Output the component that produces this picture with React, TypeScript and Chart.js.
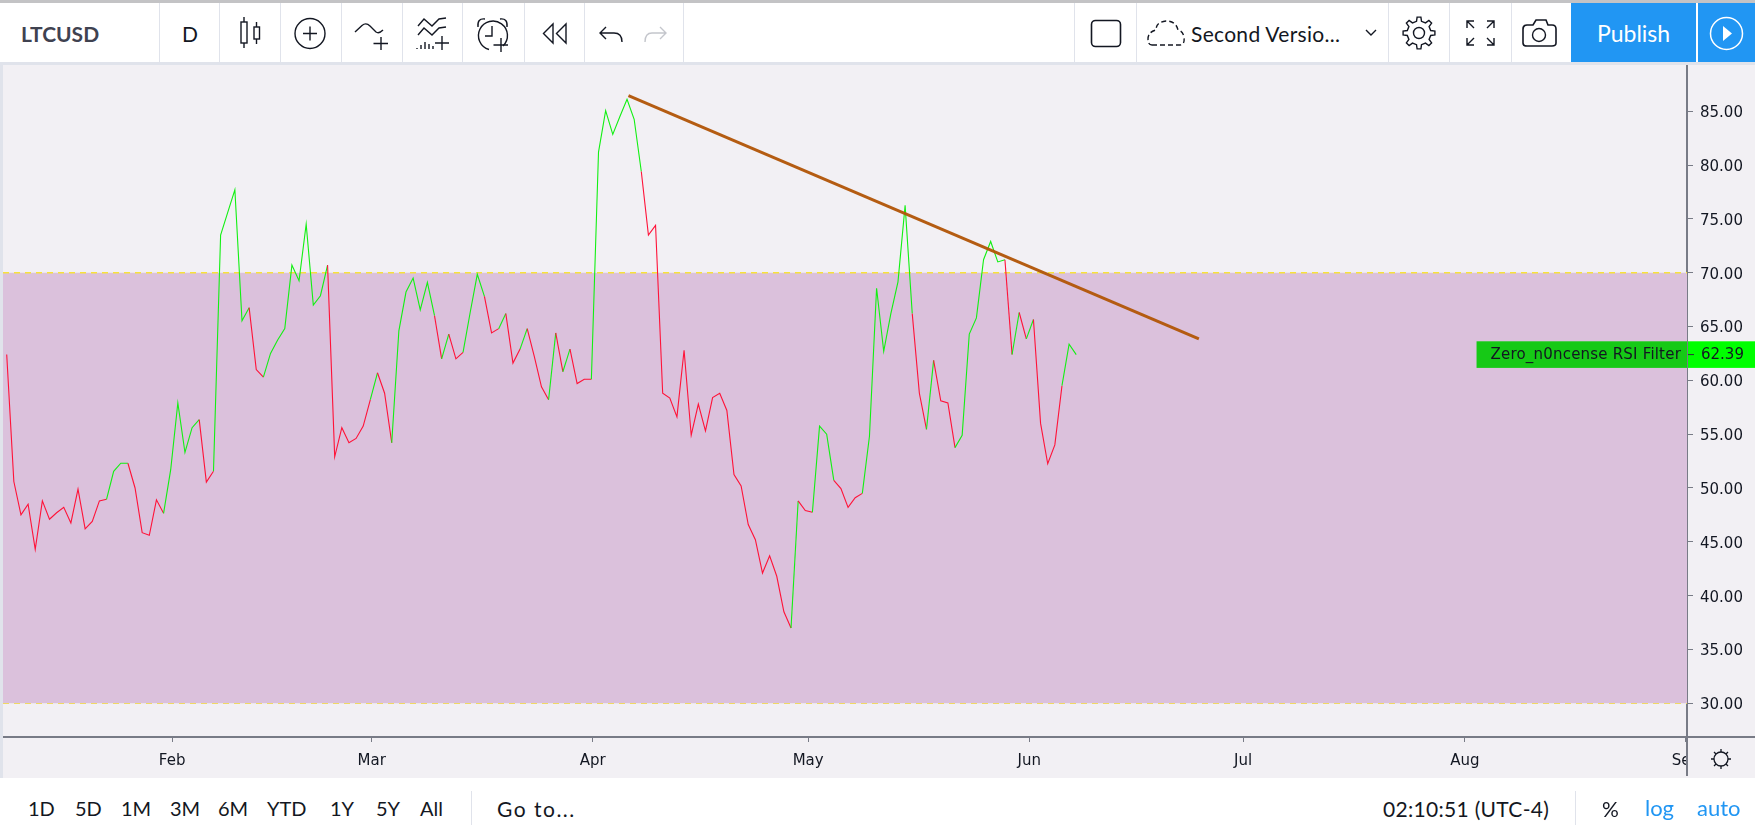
import React, { useEffect, useRef } from "react";
import { Chart, registerables } from "chart.js";

Chart.register(...registerables);

const rsiValues = [
  62.4, 50.6, 47.5, 48.5, 44.3, 48.8, 47.1, 47.7, 48.2, 46.75,
  49.9, 46.2, 46.9, 48.8, 48.95, 51.55, 52.3, 52.3, 50.0, 45.85,
  45.6, 48.9, 47.65, 51.7, 57.9, 53.3, 55.6, 56.35, 50.55, 51.55,
  73.5, 75.6, 77.7, 65.54, 66.75, 61.0, 60.3, 62.5, 63.75, 64.8,
  70.7, 69.25, 74.5, 67.0, 67.86, 70.7, 52.9, 55.6, 54.2, 54.6,
  55.75, 58.2, 60.7, 58.8, 54.2, 64.6, 68.2, 69.5, 66.55, 69.1,
  66.0, 62.0, 64.3, 62.0, 62.6, 66.3, 69.85, 67.8, 64.4, 64.8,
  66.2, 61.6, 62.9, 64.8, 62.2, 59.4, 58.2, 64.4, 60.8, 62.9,
  59.7, 60.1, 60.1, 81.2, 85.05, 82.85, 84.5, 86.1, 84.25, 79.4,
  73.5, 74.4, 58.8, 58.35, 56.6, 62.8, 54.9, 57.8, 55.3, 58.4,
  58.8, 57.2, 51.25, 50.2, 46.6, 45.2, 42.1, 43.7, 41.8, 38.5,
  37.0, 48.8, 47.9, 47.75, 55.75, 55.0, 50.7, 49.95, 48.2, 49.1,
  49.5, 54.8, 68.55, 62.7, 66.2, 69.15, 76.25, 66.2, 58.8, 55.45,
  61.85, 58.1, 57.9, 53.75, 54.9, 64.3, 65.8, 71.2, 72.9, 71.0,
  71.2, 62.4, 66.3, 63.85, 65.65, 56.0, 52.25, 54.0, 59.5, 63.35,
  62.39,
];

// 1 = filter green, 0 = filter red, for the stretch of line ending on that day
const filterStates = [
  0, 0, 0, 0, 0, 0, 0, 0, 0, 0,
  0, 0, 0, 0, 0, 1, 1, 1, 0, 0,
  0, 0, 0, 1, 1, 1, 1, 1, 0, 0,
  1, 1, 1, 1, 1, 0, 0, 1, 1, 1,
  1, 1, 1, 1, 1, 1, 0, 0, 0, 0,
  0, 0, 1, 0, 0, 1, 1, 1, 1, 1,
  1, 0, 1, 0, 0, 1, 1, 1, 0, 0,
  1, 0, 0, 1, 0, 0, 0, 1, 0, 1,
  0, 0, 0, 1, 1, 1, 1, 1, 1, 1,
  0, 0, 0, 0, 0, 0, 0, 0, 0, 0,
  0, 0, 0, 0, 0, 0, 0, 0, 0, 0,
  0, 1, 0, 0, 1, 1, 1, 0, 0, 0,
  0, 1, 1, 1, 1, 1, 1, 1, 0, 0,
  1, 0, 0, 0, 1, 1, 1, 1, 1, 1,
  1, 0, 1, 0, 1, 0, 0, 0, 0, 1,
  1,
];

const monthLabels = ["Feb", "Mar", "Apr", "May", "Jun", "Jul", "Aug", "Sep"];
const monthPositions = [23.2, 51.2, 82.2, 112.4, 143.4, 173.4, 204.5, 235.5];
const priceTicks = [30, 35, 40, 45, 50, 55, 60, 65, 70, 75, 80, 85];
const upperBand = 70;
const lowerBand = 30;
const trendLine = [
  { x: 87.2, y: 86.45 },
  { x: 167.2, y: 63.84 },
];
const seriesName = "Zero_n0ncense RSI Filter";
const lastValue = 62.39;
const visibleDays = [-0.52, 235.66];
const visiblePrices = [26.87, 89.29];

const RED = "#ff1238";
const GREEN = "#12f012";
const AXIS_FONT = "'DejaVu Sans'";

const namePlate = {
  id: "namePlate",
  afterDraw(chart: any) {
    const { ctx, chartArea, scales } = chart;
    const y = scales.y.getPixelForValue(lastValue);
    const h = 26.6;
    ctx.save();
    ctx.font = `15px ${AXIS_FONT}`;
    ctx.letterSpacing = "0.2px";
    ctx.textBaseline = "middle";
    ctx.textAlign = "left";
    const w = ctx.measureText(seriesName).width;
    ctx.fillStyle = "#16c916";
    ctx.fillRect(chartArea.right - w - 20, y - h / 2, w + 20, h);
    ctx.fillStyle = "#00ff00";
    ctx.fillRect(chartArea.right + 1, y - h / 2, chart.width - chartArea.right, h);
    ctx.fillStyle = "#2a2e39";
    ctx.fillRect(chartArea.right + 1, y - 0.5, 6, 1);
    ctx.fillStyle = "#131722";
    ctx.fillText(seriesName, chartArea.right - w - 6, y + 1);
    ctx.letterSpacing = "0px";
    ctx.fillText(lastValue.toFixed(2), chartArea.right + 14, y + 1);
    ctx.restore();
  },
};

function gearPath(cx: number, cy: number) {
  let d = "";
  const teeth = 8;
  for (let i = 0; i < teeth; i++) {
    const a = (i / teeth) * Math.PI * 2;
    const step = (Math.PI * 2) / teeth;
    const pts = [
      [a - step * 0.27, 12],
      [a - step * 0.15, 16],
      [a + step * 0.15, 16],
      [a + step * 0.27, 12],
    ];
    pts.forEach(([t, r], j) => {
      const px = cx + Math.sin(t) * r;
      const py = cy - Math.cos(t) * r;
      d += `${i === 0 && j === 0 ? "M" : "L"}${px.toFixed(1)} ${py.toFixed(1)} `;
    });
  }
  return d + "Z";
}

function TopIcons() {
  const s = { fill: "none", stroke: "#131722", strokeWidth: 1.4 } as const;
  return (
    <svg width={1755} height={65} style={{ position: "absolute", left: 0, top: 0 }}>
      <g {...s}>
        <path d="M244 17V22M244 43V48M256.5 22V27M256.5 39V44" />
        <rect x={241} y={22} width={6} height={21} />
        <rect x={254} y={27} width={5.5} height={12} />
        <circle cx={310} cy={33.5} r={15} />
        <path d="M303 33.5H317M310 26.5V40.5" />
        <path d="M355 32 L362 25.5 Q366 22 370 26 L376 32 Q379 34 383 30" />
        <path d="M373.5 43.5H388M381 37V50" />
        <path d="M418 26 L424 19 L432 26 L439 19 L446 18" />
        <path d="M418 35 L424 28 L432 35 L439 28 L446 27" />
        <path d="M417 48V49M421 45V49M425 42V49M429 44V49M433 46V49" />
        <path d="M435 43H449M442 36V50" />
        <path d="M503 46 A14.5 14.5 0 1 0 489 49.5" />
        <path d="M478 27 Q477 18 485 19 M507 27 Q508 18 500 19" />
        <path d="M492 26V36H485" />
        <path d="M493.5 45H508M501 38V52" />
        <path d="M543.5 33.5L553 24V43Z M556.5 33.5L566 24V43Z" />
        <path d="M606 27L600 33L606 39M600 33H614Q622 33 622 42" />
        <path d="M660 27L666 33L660 39M666 33H652Q645 33 645 42" stroke="#c4c6cc" />
        <rect x={1091.5} y={20.5} width={29} height={26} rx={4} strokeWidth={1.6} />
        <path d="M1152 45H1180Q1185 45 1184 37Q1183 31 1178 30Q1176 21 1166 21Q1156 22 1156 30Q1148 32 1148 39Q1148 45 1152 45" strokeDasharray="5 3" />
        <path d="M1366 30L1371 35L1376 30" />
        <path d={gearPath(1419, 33)} />
        <circle cx={1419} cy={33} r={5.5} />
        <path d="M1467 28V21H1474M1467 21L1474 28M1494 28V21H1487M1494 21L1487 28M1467 38V45H1474M1467 45L1474 38M1494 38V45H1487M1494 45L1487 38" />
        <path d="M1527 25H1533L1536 20H1546L1548 25H1552Q1556 25 1556 29V43Q1556 46 1552 46H1527Q1523 46 1523 43V29Q1523 25 1527 25Z" strokeWidth={1.6} />
        <circle cx={1539} cy={35} r={6.5} />
      </g>
      <circle cx={1726.5} cy={33.5} r={16} fill="none" stroke="#fff" strokeWidth={1.5} />
      <path d="M1723 26L1732 33.5L1723 41Z" fill="#fff" />
    </svg>
  );
}

function SunIcon() {
  return (
    <svg width={68} height={41} style={{ position: "absolute", left: 0, top: 0 }}>
      <g fill="none" stroke="#131722" strokeWidth={1.3}>
        <circle cx={33} cy={21} r={7} />
        <path d="M33 11V14M33 28V31M23 21H26M40 21H43M26 14L28 16M40 14L38 16M26 28L28 26M40 28L38 26" />
      </g>
    </svg>
  );
}

const UI_FONT = "Lato, sans-serif";

function Label(props: { x: number; y: number; size: number; color?: string; weight?: number; spacing?: number; children: React.ReactNode }) {
  return (
    <div
      style={{
        position: "absolute",
        left: props.x,
        top: props.y,
        transform: "translateY(-50%)",
        fontFamily: UI_FONT,
        fontSize: props.size,
        fontWeight: props.weight ?? 400,
        letterSpacing: props.spacing ?? 0,
        color: props.color ?? "#131722",
        whiteSpace: "nowrap",
        lineHeight: 1,
      }}
    >
      {props.children}
    </div>
  );
}

const topSeparators = [159, 219, 279.5, 340.6, 402, 462, 523.6, 584, 683, 1074, 1135.6, 1388, 1449, 1510.6];
const rangeButtons: [string, number][] = [
  ["1D", 28], ["5D", 75], ["1M", 121], ["3M", 170], ["6M", 218], ["YTD", 267], ["1Y", 330], ["5Y", 376], ["All", 420],
];

export default function App() {
  const ref = useRef<HTMLCanvasElement>(null);

  useEffect(() => {
    const rsiPoints = rsiValues.map((y, x) => ({ x, y }));
    const bandPoints = (y: number) => visibleDays.map((x) => ({ x, y }));
    const bandLine = {
      type: "line",
      borderColor: "#f7e13c",
      borderWidth: 1.5,
      borderDash: [6, 5],
      pointRadius: 0,
    };
    const chart = new Chart(ref.current as HTMLCanvasElement, {
      type: "line",
      data: {
        datasets: [
          {
            label: "Trend",
            data: trendLine,
            borderColor: "rgba(178,86,8,0.96)",
            borderWidth: 3,
            pointRadius: 0,
            order: 0,
          },
          {
            label: seriesName,
            data: rsiPoints,
            borderWidth: 1.1,
            borderColor: RED,
            pointRadius: 0,
            tension: 0,
            order: 1,
            segment: {
              borderColor: (c: any) => (filterStates[c.p1DataIndex] ? GREEN : RED),
            },
          },
          {
            ...bandLine,
            label: "Upper",
            data: bandPoints(upperBand),
            fill: { target: { value: lowerBand } },
            backgroundColor: "#dbc1dc",
            order: 2,
          },
          {
            ...bandLine,
            label: "Lower",
            data: bandPoints(lowerBand),
            order: 2,
          },
        ],
      } as any,
      options: {
        animation: false,
        responsive: false,
        devicePixelRatio: 1,
        parsing: false,
        normalized: true,
        layout: { padding: 0 },
        plugins: { legend: { display: false }, tooltip: { enabled: false } },
        scales: {
          x: {
            type: "linear",
            min: visibleDays[0],
            max: visibleDays[1],
            afterBuildTicks: (s: any) => {
              s.ticks = monthPositions.map((value) => ({ value }));
            },
            afterFit: (s: any) => {
              s.height = 41;
              s.paddingLeft = 0;
              s.paddingRight = 0;
            },
            grid: { drawOnChartArea: false, drawTicks: true, tickLength: 5, color: "#787b86", lineWidth: 1 },
            border: { color: "#787b86", width: 2 },
            ticks: {
              autoSkip: false,
              maxRotation: 0,
              padding: 10,
              color: "#131722",
              font: { family: AXIS_FONT, size: 15 },
              callback: (v: any) => monthLabels[monthPositions.indexOf(v)],
            },
          },
          y: {
            type: "linear",
            position: "right",
            min: visiblePrices[0],
            max: visiblePrices[1],
            afterBuildTicks: (s: any) => {
              s.ticks = priceTicks.map((value) => ({ value }));
            },
            afterFit: (s: any) => {
              s.width = 68;
              s.paddingTop = 0;
              s.paddingBottom = 0;
            },
            grid: { drawOnChartArea: false, drawTicks: true, tickLength: 6, color: "#787b86", lineWidth: 1 },
            border: { color: "#787b86", width: 2 },
            ticks: {
              padding: 7,
              labelOffset: 2,
              color: "#131722",
              font: { family: AXIS_FONT, size: 15 },
              callback: (v: any) => Number(v).toFixed(2),
            },
          },
        },
      } as any,
      plugins: [namePlate],
    });
    return () => chart.destroy();
  }, []);

  return (
    <div style={{ position: "fixed", left: 0, top: 0, width: 1755, height: 835, overflow: "hidden", background: "#fff" }}>
      <div style={{ position: "absolute", left: 0, top: 0, width: 1755, height: 3, background: "#c3c3c5" }} />
      <div style={{ position: "absolute", left: 0, top: 62, width: 1755, height: 3, background: "#e0e3eb" }} />
      <div style={{ position: "absolute", left: 0, top: 62, width: 3, height: 716, background: "#e0e3eb" }} />
      <div style={{ position: "absolute", left: 0, top: 776, width: 1755, height: 2, background: "#e0e3eb" }} />
      {topSeparators.map((x) => (
        <div key={x} style={{ position: "absolute", left: x, top: 3, width: 1, height: 59, background: "#e0e3eb" }} />
      ))}
      <div style={{ position: "absolute", left: 1571, top: 3, width: 125, height: 59, background: "#2196f3" }} />
      <div style={{ position: "absolute", left: 1698, top: 3, width: 57, height: 59, background: "#2196f3" }} />
      <TopIcons />
      <Label x={21} y={33} size={21} weight={700} color="#3f4250">LTCUSD</Label>
      <Label x={182} y={33} size={21}>D</Label>
      <Label x={1191} y={33} size={21} spacing={0.3}>Second Versio...</Label>
      <Label x={1597} y={33} size={23} color="#fff">Publish</Label>

      <canvas
        ref={ref}
        width={1752}
        height={713}
        style={{ position: "absolute", left: 3, top: 65, width: 1752, height: 713, background: "#f2f0f4" }}
      />
      <div
        style={{
          position: "absolute",
          left: 1686,
          top: 736,
          width: 69,
          height: 40,
          background: "#f2f0f4",
          borderTop: "2px solid #787b86",
          borderLeft: "2px solid #787b86",
          boxSizing: "border-box",
        }}
      >
        <SunIcon />
      </div>

      {rangeButtons.map(([t, x]) => (
        <Label key={t} x={x} y={808} size={20}>{t}</Label>
      ))}
      <div style={{ position: "absolute", left: 471, top: 791, width: 1, height: 34, background: "#e0e3eb" }} />
      <Label x={497} y={808} size={21} spacing={1.5}>Go to...</Label>
      <Label x={1383} y={808} size={21} spacing={0.3}>02:10:51 (UTC-4)</Label>
      <div style={{ position: "absolute", left: 1575, top: 791, width: 1, height: 34, background: "#e0e3eb" }} />
      <Label x={1602} y={808} size={21}>%</Label>
      <Label x={1645} y={808} size={22} color="#2196f3">log</Label>
      <Label x={1697} y={808} size={22} color="#2196f3">auto</Label>
    </div>
  );
}
